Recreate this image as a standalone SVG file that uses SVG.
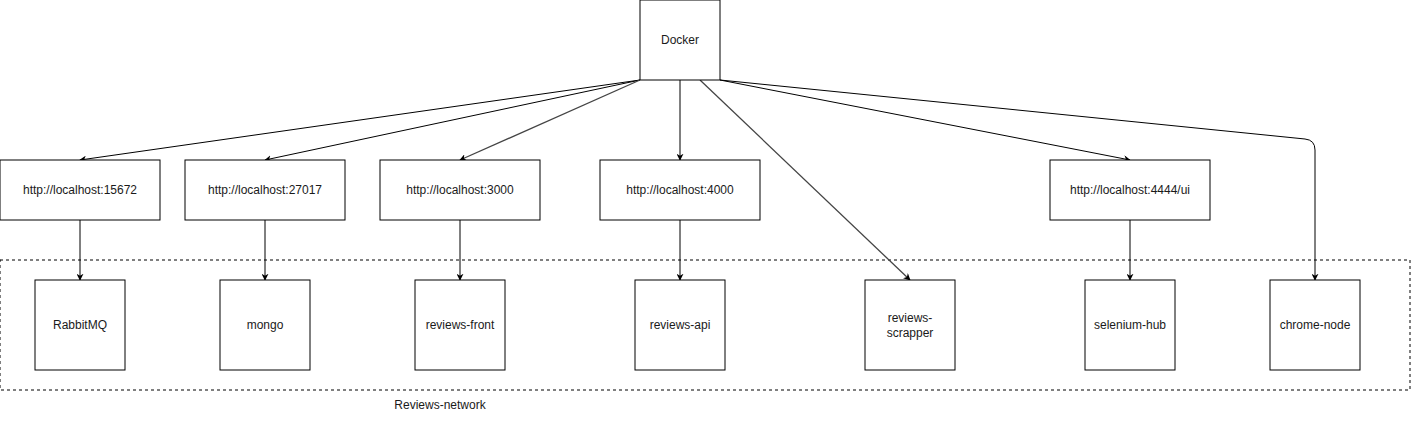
<svg xmlns="http://www.w3.org/2000/svg" width="1411" height="421" viewBox="0 0 1411 421">
<style>
.box{fill:#fff;stroke:#000;stroke-width:1}
.t{font-family:"Liberation Sans",Arial,sans-serif;font-size:12px;fill:#1a1a1a;text-anchor:middle;dominant-baseline:central}
.e{fill:none;stroke:#000;stroke-width:1;marker-end:url(#arr)}
.g{stroke:#444;stroke-width:1.3}
</style>
<defs>
<marker id="arr" viewBox="0 0 10 10" refX="9" refY="5" markerWidth="7" markerHeight="7" markerUnits="userSpaceOnUse" orient="auto">
<path d="M0,0 L10,5 L0,10 L3,5 Z" fill="#000"/>
</marker>
</defs>
<rect width="1411" height="421" fill="#fff"/>
<g id="reviews-network">
<rect x="0" y="260" width="1410" height="130" fill="none" stroke="#000" stroke-dasharray="3 3"/>
<text class="t" x="440" y="405">Reviews-network</text>
</g>
<g id="connectors">
<path class="e" d="M640,80 L80,160"/>
<path class="e" d="M640,80 L265,160"/>
<path class="e g" d="M640,80 L460,160"/>
<path class="e" d="M680,80 L680,160"/>
<path class="e g" d="M700,80 L910,280"/>
<path class="e" d="M720,80 L1130,160"/>
<path class="e" d="M720,80 L1305,139 Q1315,140 1315,150 L1315,280"/>
<path class="e" d="M80,220 L80,280"/>
<path class="e" d="M265,220 L265,280"/>
<path class="e" d="M460,220 L460,280"/>
<path class="e" d="M680,220 L680,280"/>
<path class="e" d="M1130,220 L1130,280"/>
</g>
<g id="docker"><rect class="box" x="640" y="0" width="80" height="80"/><text class="t" x="680" y="40">Docker</text></g>
<g id="url-15672"><rect class="box" x="0" y="160" width="160" height="60"/><text class="t" x="80" y="190">http://localhost:15672</text></g>
<g id="url-27017"><rect class="box" x="185" y="160" width="160" height="60"/><text class="t" x="265" y="190">http://localhost:27017</text></g>
<g id="url-3000"><rect class="box" x="380" y="160" width="160" height="60"/><text class="t" x="460" y="190">http://localhost:3000</text></g>
<g id="url-4000"><rect class="box" x="600" y="160" width="160" height="60"/><text class="t" x="680" y="190">http://localhost:4000</text></g>
<g id="url-4444"><rect class="box" x="1050" y="160" width="160" height="60"/><text class="t" x="1130" y="190">http://localhost:4444/ui</text></g>
<g id="rabbitmq"><rect class="box" x="35" y="280" width="90" height="90"/><text class="t" x="80" y="325">RabbitMQ</text></g>
<g id="mongo"><rect class="box" x="220" y="280" width="90" height="90"/><text class="t" x="265" y="325">mongo</text></g>
<g id="reviews-front"><rect class="box" x="415" y="280" width="90" height="90"/><text class="t" x="460" y="325">reviews-front</text></g>
<g id="reviews-api"><rect class="box" x="635" y="280" width="90" height="90"/><text class="t" x="680" y="325">reviews-api</text></g>
<g id="reviews-scrapper"><rect class="box" x="865" y="280" width="90" height="90"/><text class="t" x="910" y="318">reviews-</text><text class="t" x="910" y="333">scrapper</text></g>
<g id="selenium-hub"><rect class="box" x="1085" y="280" width="90" height="90"/><text class="t" x="1130" y="325">selenium-hub</text></g>
<g id="chrome-node"><rect class="box" x="1270" y="280" width="90" height="90"/><text class="t" x="1315" y="325">chrome-node</text></g>
</svg>
